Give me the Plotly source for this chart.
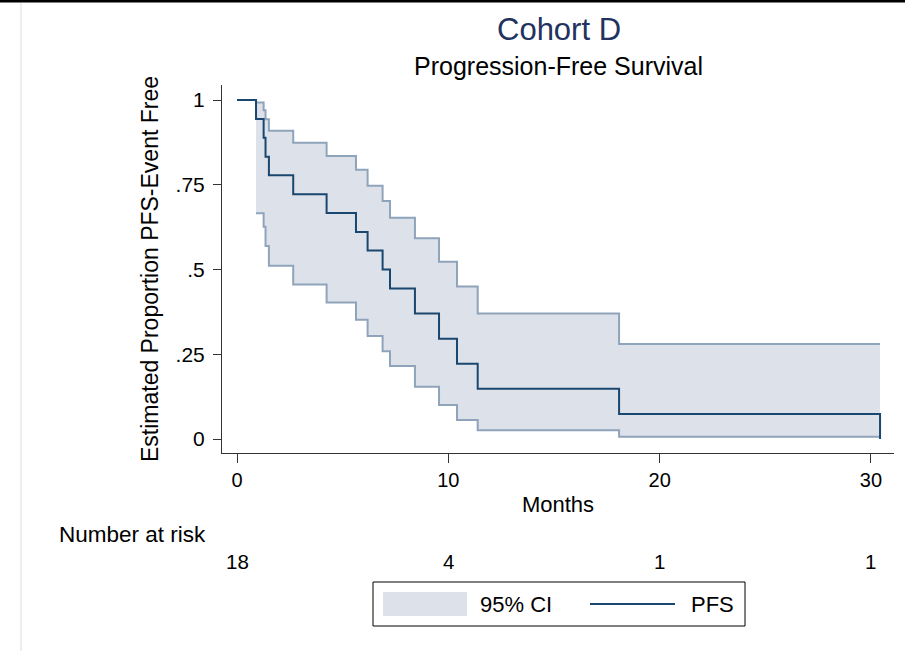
import plotly.graph_objects as go

# Canvas and plot-area geometry (pixels)
W, H = 905, 651
M_L, M_R, M_T, M_B = 222, 11, 85, 198
PLOT_W = W - M_L - M_R
PLOT_H = H - M_T - M_B


def px(x):
    """Horizontal pixel -> paper coordinate."""
    return (x - M_L) / PLOT_W


def py(y):
    """Vertical pixel (from top) -> paper coordinate."""
    return (H - M_B - y) / PLOT_H


# Kaplan-Meier estimate of progression-free survival
pfs_months = [0, 0.90, 1.26, 1.35, 1.51, 2.66, 4.24, 5.63, 6.18, 6.89, 7.24,
              8.42, 9.56, 10.41, 11.39, 18.08, 30.43]
pfs_surv = [1.0, 0.944, 0.889, 0.833, 0.778, 0.722, 0.667, 0.611, 0.556, 0.500,
            0.444, 0.370, 0.296, 0.222, 0.148, 0.074, 0.0]

# Pointwise 95% confidence limits (step values from each event time on)
ci_months = [0.90, 1.26, 1.35, 1.51, 2.66, 4.24, 5.63, 6.18, 6.89, 7.24,
             8.42, 9.56, 10.41, 11.39, 18.08, 30.43]
ci_lower = [0.666, 0.626, 0.569, 0.511, 0.456, 0.403, 0.352, 0.304, 0.259,
            0.215, 0.154, 0.100, 0.056, 0.026, 0.007, 0.007]
ci_upper = [0.993, 0.970, 0.943, 0.909, 0.874, 0.835, 0.794, 0.747, 0.702,
            0.653, 0.592, 0.523, 0.450, 0.370, 0.280, 0.280]

# Number-at-risk table
risk_months = [0, 10, 20, 30]
risk_n = [18, 4, 1, 1]

# Axis ticks
x_ticks = [0, 10, 20, 30]
y_ticks = [0, 0.25, 0.5, 0.75, 1]
y_tick_text = ["0", ".25", ".5", ".75", "1"]

FONT = "Liberation Sans, Arial, Helvetica, sans-serif"
PFS_COLOR = "#1a476f"
CI_LINE = "#8fa4ba"
CI_FILL = "#dde2ea"
AXIS_COLOR = "#333333"

fig = go.Figure()

fig.add_trace(go.Scatter(
    x=ci_months, y=ci_lower, mode="lines",
    line=dict(shape="hv", color=CI_LINE, width=2),
    showlegend=False, hoverinfo="skip",
))
fig.add_trace(go.Scatter(
    x=ci_months, y=ci_upper, mode="lines",
    line=dict(shape="hv", color=CI_LINE, width=2),
    fill="tonexty", fillcolor=CI_FILL,
    showlegend=False, hoverinfo="skip",
))
fig.add_trace(go.Scatter(
    x=pfs_months, y=pfs_surv, mode="lines",
    line=dict(shape="hv", color=PFS_COLOR, width=2),
    showlegend=False,
))

annotations = [
    dict(text="Cohort D", x=px(559), y=py(29), xref="paper", yref="paper",
         xanchor="center", yanchor="middle", showarrow=False,
         font=dict(family=FONT, size=31, color="#22325e")),
    dict(text="Progression-Free Survival", x=px(558.5), y=py(66),
         xref="paper", yref="paper", xanchor="center", yanchor="middle",
         showarrow=False, font=dict(family=FONT, size=25, color="#000000")),
    dict(text="Number at risk", x=px(57), y=py(534), xref="paper",
         yref="paper", xanchor="left", yanchor="middle", showarrow=False,
         font=dict(family=FONT, size=22.5, color="#000000")),
]

for m, n in zip(risk_months, risk_n):
    annotations.append(dict(
        text=str(n), x=m, y=py(561), xref="x", yref="paper",
        xanchor="center", yanchor="middle", showarrow=False,
        font=dict(family=FONT, size=20.5, color="#000000"),
    ))

# Legend (drawn as a keyed box below the risk table)
annotations += [
    dict(text="95% CI", x=px(478), y=py(604), xref="paper", yref="paper",
         xanchor="left", yanchor="middle", showarrow=False,
         font=dict(family=FONT, size=22, color="#000000")),
    dict(text="PFS", x=px(689), y=py(604), xref="paper", yref="paper",
         xanchor="left", yanchor="middle", showarrow=False,
         font=dict(family=FONT, size=22, color="#000000")),
]

shapes = [
    dict(type="rect", xref="paper", yref="paper",
         x0=px(373), x1=px(745), y0=py(626), y1=py(582),
         line=dict(color="#000000", width=1), fillcolor="rgba(0,0,0,0)"),
    dict(type="rect", xref="paper", yref="paper",
         x0=px(383), x1=px(467), y0=py(616), y1=py(592),
         line=dict(width=0), fillcolor=CI_FILL),
    dict(type="line", xref="paper", yref="paper",
         x0=px(590), x1=px(675), y0=py(604), y1=py(604),
         line=dict(color=PFS_COLOR, width=2)),
    # page frame
    dict(type="rect", xref="paper", yref="paper",
         x0=px(0), x1=px(905), y0=py(2.5), y1=py(0),
         line=dict(width=0), fillcolor="#000000"),
    dict(type="line", xref="paper", yref="paper",
         x0=px(21), x1=px(21), y0=py(3), y1=py(651),
         line=dict(color="#e6ebe6", width=1.5)),
]

fig.update_layout(
    width=W, height=H,
    margin=dict(l=M_L, r=M_R, t=M_T, b=M_B, pad=0),
    paper_bgcolor="#ffffff", plot_bgcolor="#ffffff",
    font=dict(family=FONT, size=20, color="#000000"),
    showlegend=False,
    annotations=annotations,
    shapes=shapes,
)

fig.update_xaxes(
    range=[-0.71, 31.09], tickvals=x_ticks, ticktext=[str(t) for t in x_ticks],
    showgrid=False, zeroline=False, showline=True, linecolor=AXIS_COLOR,
    linewidth=1, ticks="outside", ticklen=9, tickcolor=AXIS_COLOR,
    tickfont=dict(family=FONT, size=20),
    title=dict(text="Months", font=dict(family=FONT, size=22), standoff=6),
)
fig.update_yaxes(
    range=[-0.0413, 1.0443], tickvals=y_ticks, ticktext=y_tick_text,
    showgrid=False, zeroline=False, showline=True, linecolor=AXIS_COLOR,
    linewidth=1, ticks="outside", ticklen=8, tickcolor=AXIS_COLOR,
    tickfont=dict(family=FONT, size=21), ticklabelstandoff=4,
    title=dict(text="Estimated Proportion PFS-Event Free",
               font=dict(family=FONT, size=23), standoff=10),
)

fig.write_html("out.html")
